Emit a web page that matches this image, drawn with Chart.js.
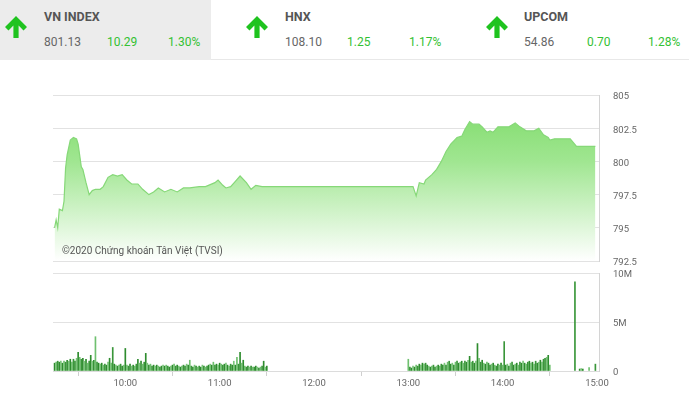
<!DOCTYPE html>
<html>
<head>
<meta charset="utf-8">
<script src="https://cdn.jsdelivr.net/npm/chart.js@4"></script>
<style>
  html, body { margin:0; padding:0; background:#fff; }
  body { width:689px; height:399px; position:relative; overflow:hidden; font-family: Roboto, "Noto Sans", sans-serif; }
  .hdrline { position:absolute; left:0; top:59px; width:689px; height:1px; background:#e8e8e8; }
  .hdrbox { position:absolute; left:0; top:0; width:211px; height:60px; background:#ececec; }
  .arrow { position:absolute; top:15px; width:24px; height:24px; }
  .name { position:absolute; top:9px; font-size:12.5px; font-weight:bold; color:#555; }
  .val { position:absolute; top:35px; font-size:12px; color:#666; }
  .chg { position:absolute; top:35px; font-size:12px; color:#33c133; }
  #c1 { position:absolute; left:0; top:85px; }
  #c2 { position:absolute; left:0; top:265px; }
  .copy { position:absolute; left:62px; top:245px; font-size:10px; color:#555; z-index:5; }
</style>
</head>
<body>
<div class="hdrline"></div>
<div class="hdrbox"></div>
<div id="hdr"></div>
<canvas id="c1" width="689" height="185"></canvas>
<canvas id="c2" width="689" height="134"></canvas>
<div class="copy">©2020 Chứng khoán Tân Việt (TVSI)</div>
<script>
// ---- Header data ----
const indexNames = ["VN INDEX", "HNX", "UPCOM"];
const indexValues = ["801.13", "108.10", "54.86"];
const indexChanges = ["10.29", "1.25", "0.70"];
const indexPercents = ["1.30%", "1.17%", "1.28%"];

// ---- Price (VN-Index intraday) ----
const priceTimes = ["09:15","09:16","09:17","09:18","09:20","09:21","09:22","09:23","09:25","09:27","09:29","09:30","09:32","09:33","09:35","09:37","09:39","09:41","09:44","09:46","09:49","09:52","09:55","09:58","10:01","10:04","10:08","10:11","10:15","10:18","10:21","10:25","10:29","10:33","10:37","10:41","10:47","10:51","10:57","10:59","11:02","11:04","11:07","11:10","11:13","11:17","11:20","11:23","11:27","11:30","13:00","13:03","13:05","13:07","13:10","13:11","13:15","13:18","13:21","13:24","13:27","13:31","13:34","13:36","13:39","13:41","13:45","13:47","13:50","13:52","13:54","13:57","14:01","14:04","14:08","14:11","14:15","14:20","14:23","14:26","14:29","14:30","14:33","14:43","14:47","14:59"];
const priceValues = [795.0,795.6,795.0,796.4,796.3,797.0,799.5,800.5,801.6,801.8,801.7,801.3,799.6,799.4,798.4,797.5,797.8,797.9,797.9,798.1,798.8,799.0,798.9,799.0,798.6,798.3,798.3,797.9,797.5,797.7,798.0,797.7,797.9,797.7,798.0,798.0,798.1,798.1,798.4,798.6,798.2,798.0,798.1,798.5,798.9,798.4,797.9,798.2,798.1,798.1,798.1,798.1,797.4,798.4,798.3,798.6,799.0,799.4,800.0,800.75,801.3,801.8,801.9,802.4,803.0,802.8,802.8,802.6,802.2,802.3,802.2,802.6,802.6,802.6,802.9,802.6,802.3,802.3,802.5,802.0,801.8,801.6,801.7,801.7,801.13,801.13];
const priceTicks = [792.5, 795, 797.5, 800, 802.5, 805];

// ---- Volume (millions, one bar per minute) ----
const volMorningStart = "09:15";
const volMorning = [0.8,0.9,1.0,0.9,1.0,0.8,1.0,0.9,1.1,1.0,1.2,0.9,1.2,1.0,1.3,1.9,1.4,1.2,1.3,1.0,1.2,0.8,1.0,1.6,1.0,1.1,3.5,0.9,0.8,0.7,0.8,0.6,0.7,0.6,0.9,1.3,0.8,2.4,0.7,0.6,0.5,0.6,0.7,0.5,0.6,2.3,0.6,0.5,0.7,0.5,0.6,0.5,0.7,1.2,0.8,1.0,0.7,0.9,1.8,0.8,0.6,0.7,0.5,0.6,0.5,0.6,0.5,0.4,0.5,0.6,0.5,0.6,0.5,0.4,0.5,0.6,0.7,0.5,0.6,0.5,0.4,0.5,0.6,0.5,0.7,0.6,1.1,0.5,0.4,0.6,0.5,0.4,0.5,0.4,0.6,0.5,0.4,0.5,0.6,0.7,0.6,0.9,0.6,0.7,0.6,0.8,0.7,0.6,0.7,0.8,0.6,0.5,0.7,0.6,1.0,0.6,1.4,0.7,1.9,0.8,1.1,0.5,0.4,0.5,0.4,0.5,0.4,0.4,0.5,0.4,0.3,0.4,0.5,1.0,0.4,0.5];
const volAfternoonStart = "13:00";
const volAfternoon = [1.2,0.4,0.3,0.5,0.4,0.6,0.5,0.7,0.6,0.8,0.7,0.8,0.6,0.5,0.4,0.5,0.6,0.4,0.5,0.6,0.5,0.7,0.6,0.8,0.6,0.9,1.0,0.7,0.8,0.6,0.9,1.0,0.8,0.9,1.0,0.8,1.0,0.9,1.1,1.5,0.9,1.0,0.8,1.0,2.8,1.3,0.9,1.1,0.8,0.7,0.9,0.8,0.6,0.7,0.8,0.6,0.5,0.7,0.6,0.8,0.6,3.0,0.6,0.7,0.5,0.8,0.9,0.6,0.7,0.8,0.6,0.9,0.8,1.0,0.8,0.7,0.9,1.0,0.8,0.9,0.7,1.0,0.8,0.9,1.1,0.9,1.2,1.3,1.4,1.6,0.6];
const volCloseTimes = ["14:46","14:49","14:50","14:51","14:55","14:59"];
const volClose = [9.1,0.2,0.25,0.2,0.35,0.7];
const volTicks = [0, 5, 10];
const volTickLabels = ["0", "5M", "10M"];
const timeTickLabels = ["10:00","11:00","12:00","13:00","14:00","15:00"];

// ---- helpers ----
function toMin(s) { const [h, m] = s.split(":").map(Number); return (h - 9) * 60 + m; }
function toLabel(v) { const h = 9 + Math.floor(v / 60), m = v % 60; return h + ":" + String(m).padStart(2, "0"); }

// ---- header ----
const arrowSvg = '<svg viewBox="0 0 24 24" width="24" height="24"><polygon fill="#1fc31f" points="12,1 23,12 19.5,15.5 14.6,10.6 14.6,23 9.4,23 9.4,10.6 4.5,15.5 1,12"/></svg>';
const hdrX = [[4, 44, 107, 168], [245, 285, 347, 409], [485, 524, 587, 648]];
let hh = "";
indexNames.forEach((n, i) => {
  const p = hdrX[i];
  hh += `<div class="arrow" style="left:${p[0]}px">${arrowSvg}</div>`;
  hh += `<div class="name" style="left:${p[1]}px">${n}</div>`;
  hh += `<div class="val" style="left:${p[1]}px">${indexValues[i]}</div>`;
  hh += `<div class="chg" style="left:${p[2]}px">${indexChanges[i]}</div>`;
  hh += `<div class="chg" style="left:${p[3]}px">${indexPercents[i]}</div>`;
});
document.getElementById("hdr").innerHTML = hh;

const X_MIN = 14, X_MAX = 361.3;
const gridColor = "#e2e2e2";
const tickFont = { family: "Roboto", size: 9.5 };

// ---- price chart ----
const pricePoints = priceTimes.map((t, i) => ({ x: toMin(t), y: priceValues[i] }));
new Chart(document.getElementById("c1"), {
  type: "line",
  data: { datasets: [{
    data: pricePoints,
    borderColor: "#86d878",
    borderWidth: 1.2,
    pointRadius: 0,
    tension: 0,
    fill: "start",
    backgroundColor: (ctx) => {
      const ca = ctx.chart.chartArea;
      if (!ca) return "rgba(140,220,120,0.6)";
      const g = ctx.chart.ctx.createLinearGradient(0, ca.top, 0, ca.bottom);
      g.addColorStop(0, "rgba(122,218,100,1)");
      g.addColorStop(0.4, "rgba(160,230,145,1)");
      g.addColorStop(1, "rgba(255,255,255,1)");
      return g;
    }
  }]},
  options: {
    responsive: false, animation: false,
    layout: { padding: { left: 53, top: 10, bottom: 9, right: 0 } },
    plugins: { legend: { display: false }, tooltip: { enabled: false } },
    scales: {
      x: { type: "linear", min: X_MIN, max: X_MAX, display: false },
      y: {
        position: "right", min: 792.5, max: 805,
        afterBuildTicks: (s) => { s.ticks = priceTicks.map(v => ({ value: v })); },
        afterFit: (s) => { s.width = 90; },
        grid: { color: gridColor, drawTicks: true, tickLength: 14, tickColor: "rgba(0,0,0,0)" },
        border: { display: true, color: "#d4d4d4" },
        ticks: { padding: 0, labelOffset: 2, color: "#666", font: tickFont, callback: (v) => String(v) }
      }
    }
  }
});

// ---- volume chart ----
const volPoints = [];
const ms = toMin(volMorningStart);
volMorning.forEach((v, i) => volPoints.push({ x: ms + i, y: v }));
const as = toMin(volAfternoonStart);
volAfternoon.forEach((v, i) => volPoints.push({ x: as + i, y: v }));
volCloseTimes.forEach((t, i) => volPoints.push({ x: toMin(t), y: volClose[i] }));
const shadePattern = ["#2e8c2e", "#6fc06f", "#3a963a", "#2e8c2e", "#7ac67a"];
const barColors = volPoints.map((p, i) => shadePattern[i % shadePattern.length]);

new Chart(document.getElementById("c2"), {
  type: "bar",
  data: { datasets: [{
    data: volPoints,
    backgroundColor: barColors,
    barThickness: 1,
    borderWidth: 0
  }]},
  options: {
    responsive: false, animation: false,
    layout: { padding: { left: 53, top: 8, bottom: 0, right: 0 } },
    plugins: { legend: { display: false }, tooltip: { enabled: false } },
    scales: {
      x: {
        type: "linear", min: X_MIN, max: X_MAX, offset: false,
        afterBuildTicks: (s) => { s.ticks = timeTickLabels.map(l => ({ value: toMin(l) })); },
        afterFit: (s) => { s.height = 28; },
        grid: { display: true, drawOnChartArea: false, drawTicks: true, tickLength: 5, color: "#cfcfcf" },
        border: { display: true, color: "#dcdcdc" },
        ticks: { padding: 2, color: "#666", font: tickFont, maxRotation: 0, autoSkip: false, callback: (v) => toLabel(v) }
      },
      y: {
        position: "right", min: 0, max: 10,
        afterBuildTicks: (s) => { s.ticks = volTicks.map(v => ({ value: v })); },
        afterFit: (s) => { s.width = 90; },
        grid: { color: gridColor, drawTicks: true, tickLength: 14, tickColor: "rgba(0,0,0,0)" },
        border: { display: true, color: "#d4d4d4" },
        ticks: { padding: 0, labelOffset: 1.5, color: "#666", font: tickFont, callback: (v) => volTickLabels[volTicks.indexOf(v)] }
      }
    }
  }
});
</script>
</body>
</html>
